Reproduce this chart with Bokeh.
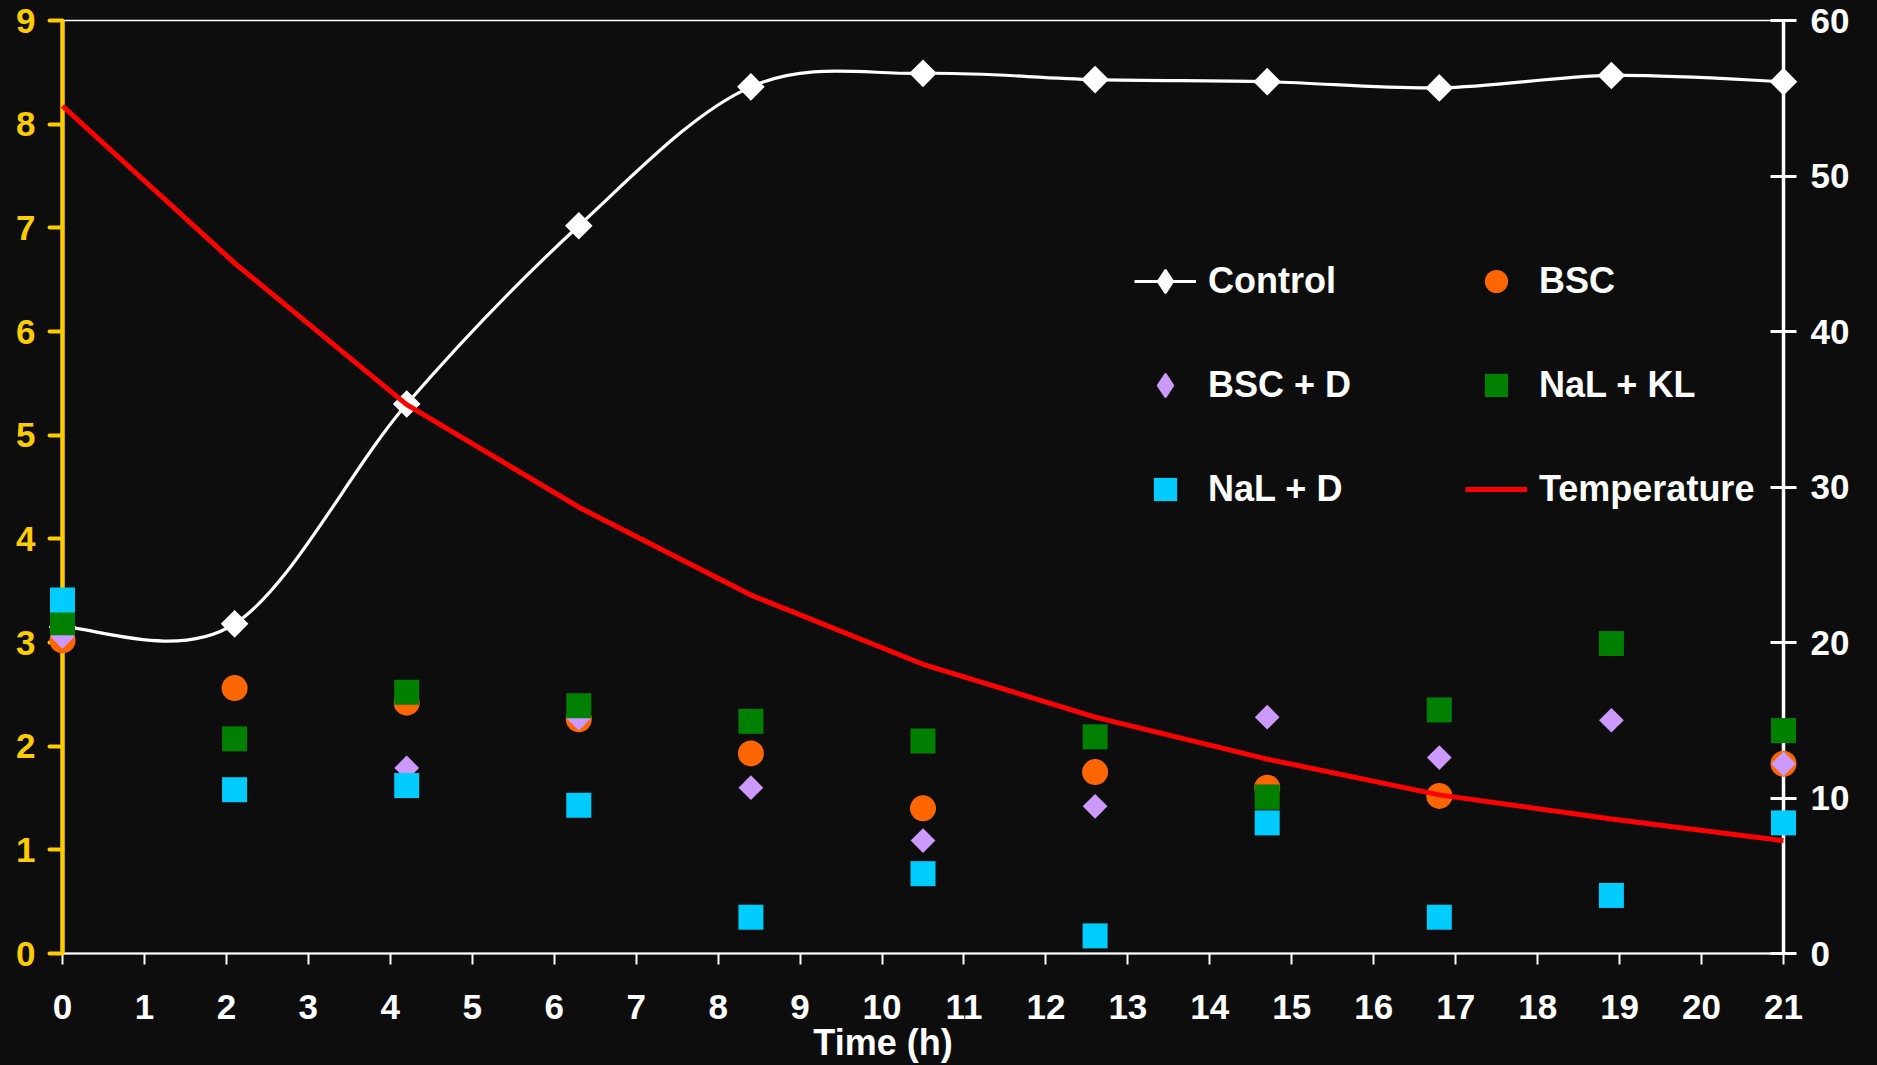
import numpy as np
from bokeh.plotting import figure
from bokeh.models import Range1d, LinearAxis, Legend, LegendItem, FixedTicker
from bokeh.embed import file_html
from bokeh.resources import INLINE

nan = float("nan")

# ---------------- data ----------------
time_h = [0, 2.1, 4.2, 6.3, 8.4, 10.5, 12.6, 14.7, 16.8, 18.9, 21]
control = [3.15, 3.18, 5.30, 7.02, 8.36, 8.49, 8.43, 8.41, 8.35, 8.47, 8.41]
bsc = [3.02, 2.56, 2.42, 2.26, 1.93, 1.40, 1.75, 1.60, 1.52, nan, 1.83]
bsc_d = [3.06, nan, 1.79, 2.27, 1.60, 1.09, 1.42, 2.28, 1.89, 2.25, 1.83]
nal_kl = [3.19, 2.07, 2.52, 2.39, 2.24, 2.05, 2.09, 1.51, 2.35, 2.99, 2.15]
nal_d = [3.41, 1.58, 1.62, 1.43, 0.35, 0.77, 0.17, 1.26, 0.35, 0.56, 1.26]
temperature = [54.5, 44.4, 35.3, 28.7, 23.05, 18.6, 15.2, 12.5, 10.2, 8.65, 7.25]

x_ticks = list(range(0, 22))
left_ticks = list(range(0, 10))
right_ticks = list(range(0, 61, 10))

series_labels = ["Control", "BSC", "BSC + D", "NaL + KL", "NaL + D", "Temperature"]
x_title = "Time (h)"

# ---------------- style ----------------
BG = "#0d0d0d"
YEL = "#FFCC00"
FONT = "Liberation Sans"
C_BSC = "#FF6600"
C_BSCD = "#CC99FF"
C_KL = "#008000"
C_ND = "#00CCFF"
C_T = "#FF0000"
TICK_FS = "35px"

p = figure(width=1877, height=1065, x_range=Range1d(0, 21), y_range=Range1d(0, 9),
           output_backend="svg", toolbar_location=None,
           background_fill_color=BG, border_fill_color=BG,
           min_border_left=62, min_border_right=94, min_border_top=20, min_border_bottom=112)
p.outline_line_color = "white"
p.outline_line_width = 1.5
p.grid.visible = False
p.extra_y_ranges = {"temp": Range1d(0, 60)}

# x axis
xa = p.xaxis[0]
xa.ticker = FixedTicker(ticks=x_ticks)
xa.axis_line_color = "white"
xa.axis_line_width = 2
xa.major_tick_line_color = "white"
xa.major_tick_line_width = 2
xa.major_tick_out = 11
xa.major_tick_in = 0
xa.minor_tick_line_color = None
xa.major_label_text_color = "white"
xa.major_label_text_font = FONT
xa.major_label_text_font_style = "bold"
xa.major_label_text_font_size = TICK_FS
xa.major_label_standoff = 30

# axis that only carries the x title; trailing no-break spaces shift the
# centred title slightly left, as in the reference
xt = LinearAxis(ticker=FixedTicker(ticks=[]))
xt.axis_line_color = None
xt.major_tick_line_color = None
xt.minor_tick_line_color = None
xt.major_label_text_font_size = "0px"
xt.axis_label = x_title + "\u00a0" * 8
xt.axis_label_text_color = "white"
xt.axis_label_text_font = FONT
xt.axis_label_text_font_style = "bold"
xt.axis_label_text_font_size = "36px"
xt.axis_label_standoff = 0
p.add_layout(xt, "below")

# left axis
ya = p.yaxis[0]
ya.ticker = FixedTicker(ticks=left_ticks)
ya.axis_line_color = YEL
ya.axis_line_width = 4.5
ya.major_tick_line_color = YEL
ya.major_tick_line_width = 4
ya.major_tick_line_cap = "round"
ya.major_tick_out = 13
ya.major_tick_in = 0
ya.minor_tick_line_color = None
ya.major_label_text_color = YEL
ya.major_label_text_font = FONT
ya.major_label_text_font_style = "bold"
ya.major_label_text_font_size = TICK_FS
ya.major_label_standoff = 14

# right axis
ra = LinearAxis(y_range_name="temp", ticker=FixedTicker(ticks=right_ticks))
ra.axis_line_color = "white"
ra.axis_line_width = 3.5
ra.major_tick_line_color = "white"
ra.major_tick_line_width = 3
ra.major_tick_out = 13
ra.major_tick_in = 13
ra.minor_tick_line_color = None
ra.major_label_text_color = "white"
ra.major_label_text_font = FONT
ra.major_label_text_font_style = "bold"
ra.major_label_text_font_size = TICK_FS
ra.major_label_standoff = 14
p.add_layout(ra, "right")

# ---------------- smoothed control line (Bezier through the data points) ----------------
n = len(time_h)
bx0, by0, bx1, by1, cx0, cy0, cx1, cy1 = ([] for _ in range(8))
for i in range(n - 1):
    xm, ym = (time_h[i - 1], control[i - 1]) if i > 0 else (time_h[i], control[i])
    xp, yp = (time_h[i + 2], control[i + 2]) if i + 2 < n else (time_h[i + 1], control[i + 1])
    bx0.append(time_h[i]); by0.append(control[i])
    bx1.append(time_h[i + 1]); by1.append(control[i + 1])
    cx0.append(time_h[i] + (time_h[i + 1] - xm) / 6); cy0.append(control[i] + (control[i + 1] - ym) / 6)
    cx1.append(time_h[i + 1] - (xp - time_h[i]) / 6); cy1.append(control[i + 1] - (yp - control[i]) / 6)

p.bezier(x0=bx0, y0=by0, x1=bx1, y1=by1, cx0=cx0, cy0=cy0, cx1=cx1, cy1=cy1,
         line_color="white", line_width=3.2, level="overlay")

ang = np.pi / 4
p.scatter(time_h, control, marker="square", angle=ang, size=19.5, fill_color="white",
          line_color=None, level="overlay")
r_bsc = p.scatter(time_h, bsc, marker="circle", size=26, fill_color=C_BSC, line_color=None, level="overlay")
p.scatter(time_h, bsc_d, marker="square", angle=ang, size=17.5, fill_color=C_BSCD, line_color=None, level="overlay")
r_kl = p.scatter(time_h, nal_kl, marker="square", size=25, fill_color=C_KL, line_color=None, level="overlay")
r_nd = p.scatter(time_h, nal_d, marker="square", size=25, fill_color=C_ND, line_color=None, level="overlay")
r_t = p.line(time_h, temperature, y_range_name="temp", line_color=C_T, line_width=5, level="overlay")

# legend-only keys (no visible data) for diamond-style symbols
lg_ctrl_line = p.line(x=[nan], y=[nan], line_color="white", line_width=3.2)
lg_ctrl_pt = p.scatter(x=[nan], y=[nan], marker="diamond", fill_color="white", line_color="white", line_width=2)
lg_bscd = p.scatter(x=[nan], y=[nan], marker="diamond", fill_color=C_BSCD, line_color=C_BSCD, line_width=2)

legend = Legend(items=[
    LegendItem(label=series_labels[0], renderers=[lg_ctrl_line, lg_ctrl_pt]),
    LegendItem(label=series_labels[1], renderers=[r_bsc]),
    LegendItem(label=series_labels[2], renderers=[lg_bscd]),
    LegendItem(label=series_labels[3], renderers=[r_kl]),
    LegendItem(label=series_labels[4], renderers=[r_nd]),
    LegendItem(label=series_labels[5], renderers=[r_t]),
], ncols=2, orientation="horizontal", location=(1072, 435),
    background_fill_alpha=0, border_line_alpha=0, padding=0, margin=0,
    glyph_width=62, glyph_height=58, label_standoff=12, label_width=211, label_height=58,
    spacing=46, label_text_color="white", label_text_font=FONT,
    label_text_font_size="36px", label_text_font_style="bold")
p.add_layout(legend)

template = "{% block preamble %}<style>html, body { background-color: #0d0d0d; }</style>{% endblock %}"
open("out.html", "w").write(file_html(p, INLINE, "chart", template=template))
